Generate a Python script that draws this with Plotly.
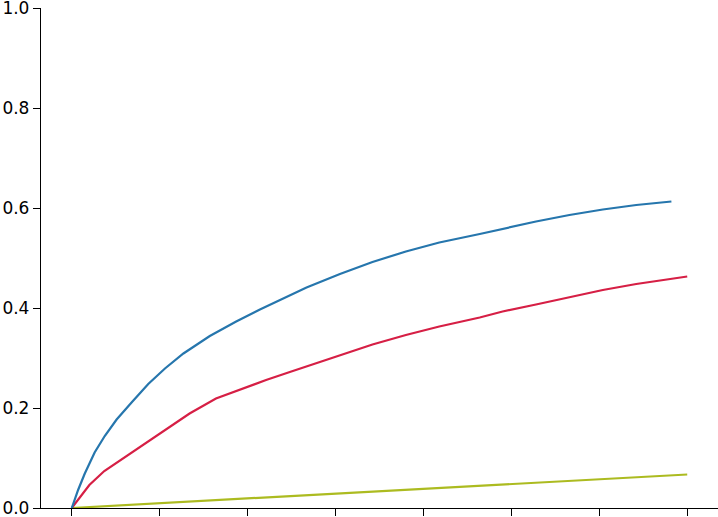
import plotly.graph_objects as go

blue_x = [0, 0.072, 0.148, 0.26, 0.375, 0.51, 0.68, 0.87, 1.06, 1.27, 1.57, 1.87, 2.14,
          2.29, 2.67, 3.05, 3.42, 3.80, 4.18, 4.64, 4.90, 5.28, 5.66, 6.04, 6.42, 6.82]
blue_y = [0, 0.036, 0.069, 0.111, 0.144, 0.177, 0.211, 0.248, 0.279, 0.309, 0.344, 0.373,
          0.397, 0.409, 0.441, 0.468, 0.492, 0.513, 0.531, 0.548, 0.558, 0.573, 0.586,
          0.597, 0.606, 0.613]

red_x = [0, 0.1, 0.2, 0.37, 0.7, 1.04, 1.34, 1.64, 2.0, 2.21, 2.48, 2.67, 3.05, 3.42,
         3.80, 4.18, 4.64, 4.90, 5.28, 5.66, 6.04, 6.42, 7.0]
red_y = [0, 0.024, 0.046, 0.074, 0.113, 0.153, 0.189, 0.219, 0.243, 0.256, 0.272, 0.283,
         0.305, 0.327, 0.346, 0.363, 0.381, 0.393, 0.407, 0.421, 0.436, 0.448, 0.463]

green_x = [0, 1, 2, 3, 4, 5, 6, 7]
green_y = [0, 0.0095, 0.019, 0.0285, 0.038, 0.0475, 0.057, 0.067]

x_ticks = [0, 1, 2, 3, 4, 5, 6, 7]
y_ticks = [0.0, 0.2, 0.4, 0.6, 0.8, 1.0]
y_tick_labels = ["0.0", "0.2", "0.4", "0.6", "0.8", "1.0"]

fig = go.Figure()
fig.add_trace(go.Scatter(x=green_x, y=green_y, mode="lines",
                         line=dict(color="#acbb20", width=2.2), showlegend=False))
fig.add_trace(go.Scatter(x=red_x, y=red_y, mode="lines",
                         line=dict(color="#d61f45", width=2.2), showlegend=False))
fig.add_trace(go.Scatter(x=blue_x, y=blue_y, mode="lines",
                         line=dict(color="#2676ad", width=2.2), showlegend=False))

fig.update_layout(
    width=718, height=517,
    margin=dict(l=41, r=0, t=8, b=9, autoexpand=False),
    paper_bgcolor="white", plot_bgcolor="white",
    font=dict(family="DejaVu Sans", size=17, color="black"),
    xaxis=dict(range=[-0.35, 7.35], tickvals=x_ticks, showticklabels=False,
               automargin=False,
               showgrid=False, zeroline=False, showline=True, linecolor="black",
               linewidth=1.3, ticks="outside", ticklen=7, tickwidth=1.3, tickcolor="black"),
    yaxis=dict(range=[0, 1], tickvals=y_ticks, ticktext=y_tick_labels,
               automargin=False, ticklabeloverflow="allow",
               showgrid=False, zeroline=False, showline=True, linecolor="black",
               linewidth=1.3, ticks="outside", ticklen=7, tickwidth=1.3, tickcolor="black"),
)

fig.write_html("out.html", config={"displayModeBar": False},
               post_script="document.body.style.margin='0';")
